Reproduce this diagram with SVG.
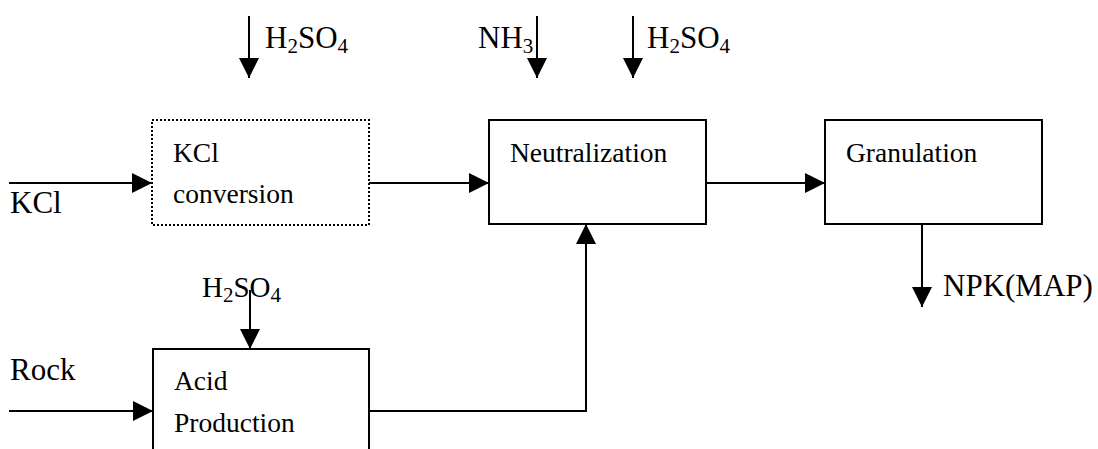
<svg xmlns="http://www.w3.org/2000/svg" width="1098" height="449" viewBox="0 0 1098 449">
<style>
text{font-family:'Liberation Serif','Times New Roman',Tinos,'DejaVu Serif',serif;font-size:27.5px;fill:#000}
.lbl{font-size:31px}
.lbl2{font-size:29px}
.sub{font-size:21px}
.box{fill:#fff;stroke:#000;stroke-width:2}
.dot{fill:#fff;stroke:#000;stroke-width:2;stroke-dasharray:2 2}
.ln{fill:none;stroke:#000;stroke-width:2}
</style>
<defs>
<marker id="ah" markerWidth="20" markerHeight="20" refX="20" refY="10" orient="auto" markerUnits="userSpaceOnUse" viewBox="0 0 20 20">
<path d="M0,0 L20,10 L0,20 Z" fill="#000"/>
</marker>
</defs>
<rect width="1098" height="449" fill="#fff"/>
<g font-family="Liberation Serif, serif">
<g id="kcl-conversion">
<rect class="dot" x="152" y="120" width="217" height="105"/>
<text x="173" y="162">KCl</text>
<text x="173" y="203">conversion</text>
</g>
<g id="neutralization">
<rect class="box" x="489" y="120" width="217" height="104"/>
<text x="510" y="162">Neutralization</text>
</g>
<g id="granulation">
<rect class="box" x="825" y="120" width="217" height="104"/>
<text x="846" y="162">Granulation</text>
</g>
<g id="acid-production">
<rect class="box" x="153" y="349" width="216" height="120"/>
<text x="174" y="390">Acid</text>
<text x="174" y="432">Production</text>
</g>
<g id="connectors">
<line class="ln" x1="9" y1="183" x2="152" y2="183" marker-end="url(#ah)"/>
<line class="ln" x1="369" y1="183" x2="489" y2="183" marker-end="url(#ah)"/>
<line class="ln" x1="706" y1="183" x2="825" y2="183" marker-end="url(#ah)"/>
<line class="ln" x1="249" y1="16" x2="249" y2="78" marker-end="url(#ah)"/>
<line class="ln" x1="537" y1="16" x2="537" y2="78" marker-end="url(#ah)"/>
<line class="ln" x1="633" y1="16" x2="633" y2="78" marker-end="url(#ah)"/>
<line class="ln" x1="922" y1="224" x2="922" y2="307" marker-end="url(#ah)"/>
<line class="ln" x1="250" y1="290" x2="250" y2="349" marker-end="url(#ah)"/>
<line class="ln" x1="9" y1="411" x2="153" y2="411" marker-end="url(#ah)"/>
<polyline class="ln" points="369,411 586,411 586,224" marker-end="url(#ah)"/>
</g>
<g id="labels">
<text class="lbl" x="10" y="213">KCl</text>
<text class="lbl" x="10" y="380">Rock</text>
<text class="lbl" x="943" y="296">NPK(MAP)</text>
<text class="lbl" x="265" y="48">H<tspan class="sub" dy="5">2</tspan><tspan dy="-5">SO</tspan><tspan class="sub" dy="5">4</tspan></text>
<text class="lbl" x="478" y="48">NH<tspan class="sub" dy="5">3</tspan></text>
<text class="lbl" x="647" y="48">H<tspan class="sub" dy="5">2</tspan><tspan dy="-5">SO</tspan><tspan class="sub" dy="5">4</tspan></text>
<text class="lbl2" x="202" y="297">H<tspan class="sub" dy="5">2</tspan><tspan dy="-5">SO</tspan><tspan class="sub" dy="5">4</tspan></text>
</g>
</g>
</svg>
